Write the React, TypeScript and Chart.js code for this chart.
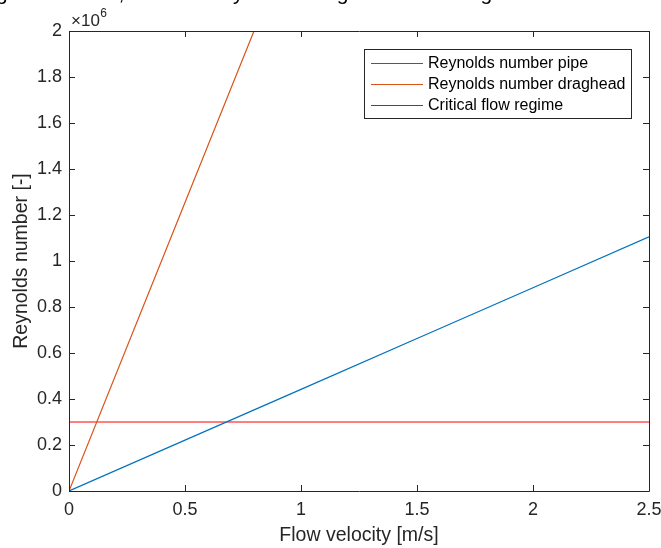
import React, { useEffect, useRef } from "react";
import { Chart, registerables } from "chart.js";

Chart.register(...registerables);

const velocity = [0, 0.5, 1, 1.5, 2, 2.5];
const rePipe = [0, 221000, 442000, 663000, 884000, 1105000];
const reDraghead = [0, 1254000, 2508000, 3762000, 5016000, 6270000];
const reCritical = [300000, 300000, 300000, 300000, 300000, 300000];
const seriesLabels = ["Reynolds number pipe", "Reynolds number draghead", "Critical flow regime"];
const seriesColors = ["#0072BD", "#D95319", "#FF0000"];
const xTicks = [0, 0.5, 1, 1.5, 2, 2.5];
const yTicks = [0, 200000, 400000, 600000, 800000, 1000000, 1200000, 1400000, 1600000, 1800000, 2000000];
const titleLead = "Calculatin";
const titleText = "Calculating the number, flow velocity in the draghead and rising main";
const xTitle = "Flow velocity [m/s]";
const yTitle = "Reynolds number [-]";

const FONT = '"Liberation Sans", Arial, Helvetica, sans-serif';
const AX = "#262626";

const decorPlugin = {
  id: "decor",
  afterDatasetsDraw(chart: any) {
    const ctx = chart.ctx;
    const a = chart.chartArea;
    const xs = chart.scales.x;
    const ys = chart.scales.y;
    ctx.save();
    // box
    ctx.strokeStyle = AX;
    ctx.lineWidth = 1;
    ctx.beginPath();
    ctx.rect(Math.round(a.left) + 0.5, Math.round(a.top) + 0.5, Math.round(a.right - a.left), Math.round(a.bottom - a.top));
    ctx.stroke();
    // inward ticks
    const tl = 6;
    ctx.beginPath();
    xTicks.forEach((v) => {
      const px = Math.round(xs.getPixelForValue(v)) + 0.5;
      ctx.moveTo(px, a.bottom);
      ctx.lineTo(px, a.bottom - tl);
      ctx.moveTo(px, a.top);
      ctx.lineTo(px, a.top + tl);
    });
    yTicks.forEach((v) => {
      const py = Math.round(ys.getPixelForValue(v)) + 0.5;
      ctx.moveTo(a.left, py);
      ctx.lineTo(a.left + tl, py);
      ctx.moveTo(a.right, py);
      ctx.lineTo(a.right - tl, py);
    });
    ctx.stroke();

    // exponent label
    ctx.fillStyle = AX;
    ctx.textBaseline = "alphabetic";
    ctx.textAlign = "left";
    ctx.font = `17px ${FONT}`;
    ctx.fillText("\u00d710", a.left + 2, a.top - 5);
    const w = ctx.measureText("\u00d710").width;
    ctx.font = `12px ${FONT}`;
    ctx.fillText("6", a.left + 2 + w + 0.5, a.top - 14);

    // title (mostly cut off above the picture)
    ctx.fillStyle = "#000000";
    ctx.textAlign = "left";
    ctx.font = `21px ${FONT}`;
    const lead = ctx.measureText(titleLead).width;
    ctx.fillText(titleText, -4 - lead, 0);

    // legend
    ctx.font = `16px ${FONT}`;
    let maxW = 0;
    seriesLabels.forEach((l) => (maxW = Math.max(maxW, ctx.measureText(l).width)));
    const bw = Math.round(7 + 52 + 5 + maxW + 6);
    const bx = Math.round(a.right - 18 - bw);
    const by = Math.round(a.top + 18);
    const bh = 69;
    ctx.fillStyle = "#ffffff";
    ctx.fillRect(bx, by, bw, bh);
    ctx.strokeStyle = AX;
    ctx.strokeRect(bx + 0.5, by + 0.5, bw, bh);
    seriesLabels.forEach((l, i) => {
      const yy = by + 14 + i * 21;
      ctx.strokeStyle = seriesColors[i];
      ctx.beginPath();
      ctx.moveTo(bx + 7, yy + 0.5);
      ctx.lineTo(bx + 59, yy + 0.5);
      ctx.stroke();
      ctx.fillStyle = "#000000";
      ctx.textAlign = "left";
      ctx.textBaseline = "middle";
      ctx.fillText(l, bx + 64, yy + 1);
    });
    ctx.restore();
  },
};

export default function App() {
  const ref = useRef<HTMLCanvasElement>(null);
  useEffect(() => {
    if (!ref.current) return;
    const mk = (vals: number[]) => velocity.map((v, i) => ({ x: v, y: vals[i] }));
    const chart = new Chart(ref.current, {
      type: "line",
      data: {
        datasets: [
          { label: seriesLabels[0], data: mk(rePipe), borderColor: seriesColors[0], borderWidth: 1.2, pointRadius: 0, tension: 0 },
          { label: seriesLabels[1], data: mk(reDraghead), borderColor: seriesColors[1], borderWidth: 1.2, pointRadius: 0, tension: 0 },
          { label: seriesLabels[2], data: mk(reCritical), borderColor: seriesColors[2], borderWidth: 1.2, pointRadius: 0, tension: 0 },
        ],
      },
      options: {
        responsive: false,
        animation: false,
        layout: { padding: { left: 0, top: 31, right: 12, bottom: 0 } },
        plugins: { legend: { display: false }, tooltip: { enabled: false }, title: { display: false } },
        scales: {
          x: {
            type: "linear",
            min: 0,
            max: 2.5,
            afterFit: (s: any) => { s.height = 57; s.paddingLeft = 0; s.paddingRight = 0; },
            afterBuildTicks: (s: any) => { s.ticks = xTicks.map((v) => ({ value: v })); },
            ticks: { color: AX, font: { family: FONT, size: 18 }, padding: 8, maxRotation: 0, autoSkip: false, callback: (v: any) => String(v) },
            grid: { display: false, drawTicks: false, tickLength: 0 },
            border: { display: false },
            title: { display: true, text: xTitle, color: AX, font: { family: FONT, size: 19.5 }, padding: { top: 0, bottom: 1 } },
          },
          y: {
            type: "linear",
            min: 0,
            max: 2000000,
            afterFit: (s: any) => { s.width = 69; s.paddingTop = 0; s.paddingBottom = 0; },
            afterBuildTicks: (s: any) => { s.ticks = yTicks.map((v) => ({ value: v })); },
            ticks: { color: AX, font: { family: FONT, size: 18 }, padding: 7, autoSkip: false, callback: (v: any) => String(Math.round(v / 100000) / 10) },
            grid: { display: false, drawTicks: false, tickLength: 0 },
            border: { display: false },
            title: { display: true, text: yTitle, color: AX, font: { family: FONT, size: 19.5 }, padding: { top: 10, bottom: 0 } },
          },
        },
      },
      plugins: [decorPlugin],
    });
    return () => chart.destroy();
  }, []);
  return (
    <div style={{ position: "absolute", left: 0, top: 0, width: 661, height: 548, background: "#fff" }}>
      <canvas ref={ref} width={661} height={548} style={{ display: "block" }} />
    </div>
  );
}
